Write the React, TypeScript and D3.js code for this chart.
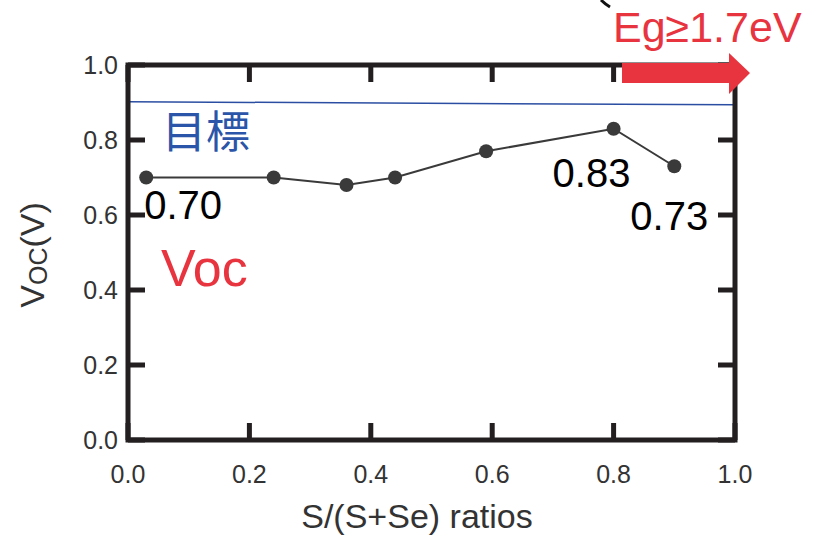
import React from "react";
import * as d3 from "d3";

const ratios = [0.03, 0.24, 0.36, 0.44, 0.59, 0.8, 0.9];
const vocValues = [0.7, 0.7, 0.68, 0.7, 0.77, 0.83, 0.73];
const xTicks = [0, 0.2, 0.4, 0.6, 0.8, 1.0];
const yTicks = [0, 0.2, 0.4, 0.6, 0.8, 1.0];
const targetLine = [
  { x: 0, y: 0.902 },
  { x: 1, y: 0.894 },
];
const valueLabels = [
  { x: 0.03, y: 0.7, text: "0.70", dx: -2, dy: 41 },
  { x: 0.8, y: 0.83, text: "0.83", dx: -61, dy: 58 },
  { x: 0.9, y: 0.73, text: "0.73", dx: -44, dy: 64 },
];

export default function App() {
  const left = 128, right = 735, top = 65, bottom = 440;
  const x = d3.scaleLinear().domain([0, 1]).range([left, right]);
  const y = d3.scaleLinear().domain([0, 1]).range([bottom, top]);
  const line = d3
    .line<number>()
    .x((_, i) => x(ratios[i]))
    .y((d) => y(d));
  const tLine = d3
    .line<{ x: number; y: number }>()
    .x((d) => x(d.x))
    .y((d) => y(d.y));
  const frame = "#231f20";
  const tickLen = 17;
  const sans = "'Liberation Sans', Arial, sans-serif";
  return (
    <svg
      width={825}
      height={536}
      style={{ position: "absolute", left: 0, top: 0, background: "#fff" }}
    >
      {/* partial glyph at top */}
      <path d="M601,0 Q605,4 610,7" stroke="#111" strokeWidth={3} fill="none" />
      {/* target line */}
      <path d={tLine(targetLine) || ""} stroke="#2b4ea2" strokeWidth={1.5} fill="none" />
      {/* ticks */}
      {yTicks.map((t) => (
        <g key={"y" + t}>
          <line x1={left} x2={left + tickLen} y1={y(t)} y2={y(t)} stroke={frame} strokeWidth={5} />
          <line x1={right} x2={right - tickLen} y1={y(t)} y2={y(t)} stroke={frame} strokeWidth={5} />
          <text
            x={left - 10}
            y={y(t) + 9}
            textAnchor="end"
            fontSize={25}
            fontFamily={sans}
            fill="#333"
          >
            {t.toFixed(1)}
          </text>
        </g>
      ))}
      {xTicks.map((t) => (
        <g key={"x" + t}>
          <line x1={x(t)} x2={x(t)} y1={bottom} y2={bottom - tickLen} stroke={frame} strokeWidth={5} />
          <line x1={x(t)} x2={x(t)} y1={top} y2={top + tickLen} stroke={frame} strokeWidth={5} />
          <text
            x={x(t)}
            y={bottom + 43}
            textAnchor="middle"
            fontSize={25}
            fontFamily={sans}
            fill="#333"
          >
            {t.toFixed(1)}
          </text>
        </g>
      ))}
      {/* frame */}
      <rect
        x={left}
        y={top}
        width={right - left}
        height={bottom - top}
        fill="none"
        stroke={frame}
        strokeWidth={5}
      />
      {/* data line */}
      <path d={line(vocValues) || ""} stroke="#3a3a3a" strokeWidth={2} fill="none" />
      {vocValues.map((v, i) => (
        <circle key={i} cx={x(ratios[i])} cy={y(v)} r={7} fill="#3a3a3a" />
      ))}
      {/* value labels */}
      {valueLabels.map((l) => (
        <text
          key={l.text}
          x={x(l.x) + l.dx}
          y={y(l.y) + l.dy}
          fontSize={40}
          fontFamily={sans}
          fill="#000"
        >
          {l.text}
        </text>
      ))}
      {/* annotations */}
      <text x={162} y={148} fontSize={44} fontFamily="'Noto Sans CJK JP', sans-serif" fill="#2b55a8">
        目標
      </text>
      <text x={161} y={286} fontSize={52} fontFamily={sans} fill="#e8343f">
        Voc
      </text>
      <text x={613} y={42} fontSize={43} fontFamily={sans} fill="#e8343f">
        Eg≥1.7eV
      </text>
      {/* red arrow */}
      <path
        d="M622,63 L729,63 L729,53 L750,73 L729,94 L729,83 L622,83 Z"
        fill="#e8343f"
      />
      {/* axis titles */}
      <text
        x={417}
        y={528}
        textAnchor="middle"
        fontSize={34}
        fontFamily={sans}
        fill="#333"
      >
        S/(S+Se) ratios
      </text>
      <text
        transform="translate(44,255) rotate(-90)"
        textAnchor="middle"
        fontSize={34}
        fontFamily={sans}
        fill="#333"
      >
        V<tspan fontSize={25} dy={3}>OC</tspan>
        <tspan dy={-3}>(V)</tspan>
      </text>
    </svg>
  );
}
